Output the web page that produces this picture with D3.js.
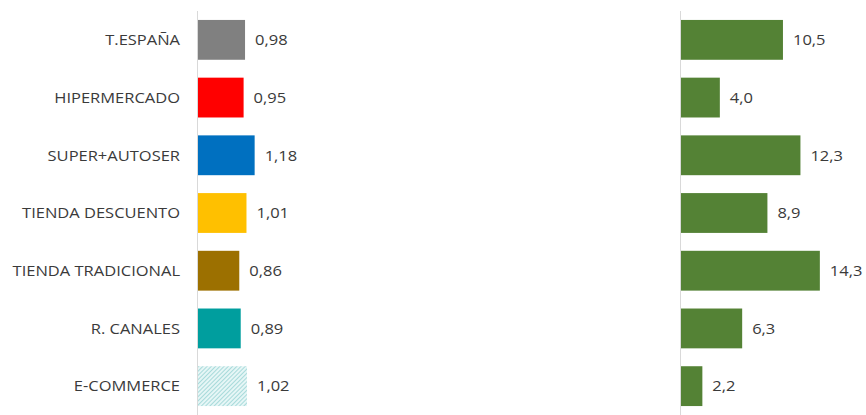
<!DOCTYPE html>
<html><head><meta charset="utf-8">
<script src="https://cdn.jsdelivr.net/npm/d3@7"></script>
<style>body{margin:0;background:#fff}svg{display:block}</style>
</head><body><svg id="c" width="866" height="415"></svg>
<script>
const categories = ["T.ESPAÑA","HIPERMERCADO","SUPER+AUTOSER","TIENDA DESCUENTO","TIENDA TRADICIONAL","R. CANALES","E-COMMERCE"];
const leftValues = [0.98,0.95,1.18,1.01,0.86,0.89,1.02];
const rightValues = [10.5,4.0,12.3,8.9,14.3,6.3,2.2];
const leftColors = ["#808080","#FF0000","#0070C0","#FFC000","#9C7000","#009E9E","url(#hatch)"];
const rightColor = "#548235";
const fmt = (v,d) => v.toFixed(d).replace(".", ",");

const svg = d3.select("#c");
const defs = svg.append("defs");
const pat = defs.append("pattern").attr("id","hatch").attr("patternUnits","userSpaceOnUse")
  .attr("width",3).attr("height",3).attr("patternTransform","rotate(45)");
pat.append("rect").attr("width",3).attr("height",3).attr("fill","#e6f6f6");
pat.append("line").attr("x1",0).attr("y1",0).attr("x2",0).attr("y2",3).attr("stroke","#7cc8c8").attr("stroke-width",1.2);

const y = d3.scaleBand().domain(categories).range([11,415]).paddingInner(0.31).paddingOuter(0.155);
const xL = d3.scaleLinear().domain([0,1]).range([198,246]);
const xR = d3.scaleLinear().domain([0,10]).range([681,778.1]);

const font = "'Open Sans', sans-serif";
const fs = 15;
const sx = 1.1; // horizontal stretch of the reference text

// axis lines
svg.append("line").attr("x1",197.5).attr("x2",197.5).attr("y1",11).attr("y2",415).attr("stroke","#d9d9d9");
svg.append("line").attr("x1",680.5).attr("x2",680.5).attr("y1",11).attr("y2",415).attr("stroke","#d9d9d9");

function label(g, x, yy, txt, anchor) {
  g.append("g").attr("transform",`translate(${x},${yy}) scale(${sx},1)`)
    .append("text").attr("dy","0.35em").attr("text-anchor",anchor)
    .attr("font-family",font).attr("font-size",fs).attr("fill","#3a3a3a").text(txt);
}

const gl = svg.append("g");
categories.forEach(c => label(gl, 180, y(c)+y.bandwidth()/2, c, "end"));

// left bars
svg.append("g").selectAll("rect").data(leftValues).join("rect")
  .attr("x",xL(0)).attr("y",(d,i)=>y(categories[i])).attr("height",y.bandwidth())
  .attr("width",d=>xL(d)-xL(0)).attr("fill",(d,i)=>leftColors[i]);
const gv = svg.append("g");
leftValues.forEach((d,i) => label(gv, xL(d)+10, y(categories[i])+y.bandwidth()/2, fmt(d,2), "start"));

// right bars
svg.append("g").selectAll("rect").data(rightValues).join("rect")
  .attr("x",xR(0)).attr("y",(d,i)=>y(categories[i])).attr("height",y.bandwidth())
  .attr("width",d=>xR(d)-xR(0)).attr("fill",rightColor);
const gr = svg.append("g");
rightValues.forEach((d,i) => label(gr, xR(d)+10, y(categories[i])+y.bandwidth()/2, fmt(d,1), "start"));
</script></body></html>
